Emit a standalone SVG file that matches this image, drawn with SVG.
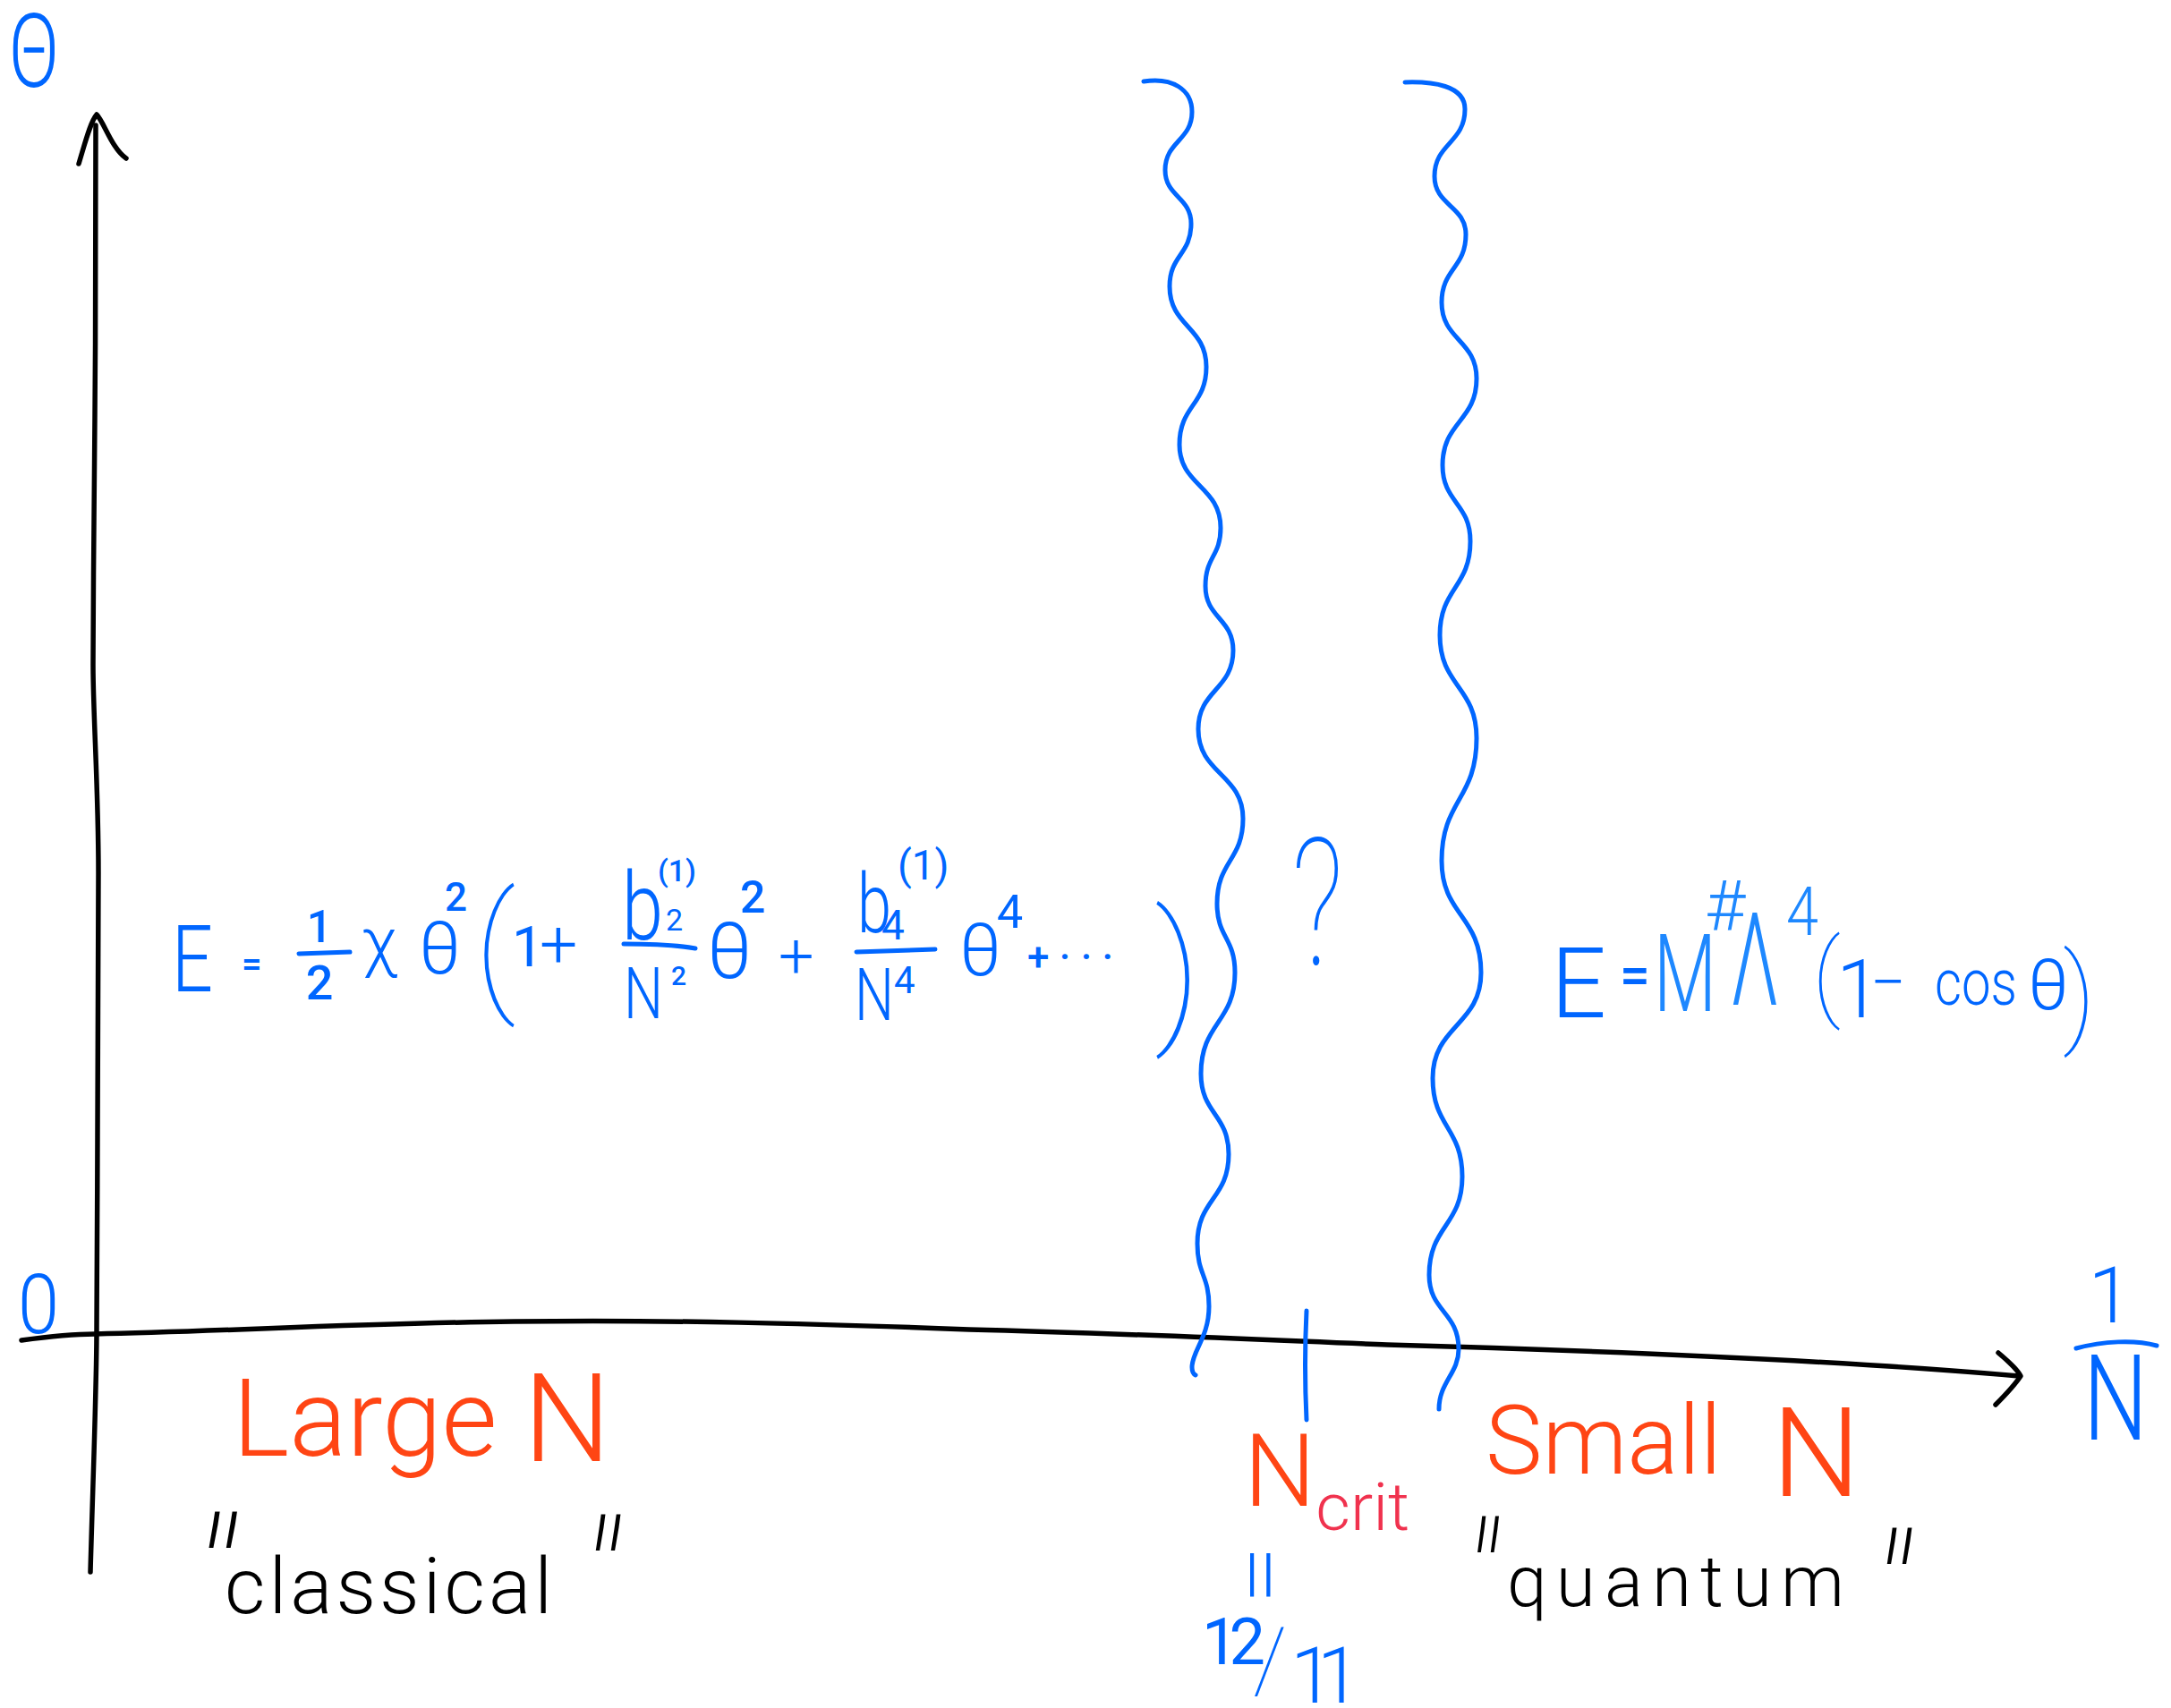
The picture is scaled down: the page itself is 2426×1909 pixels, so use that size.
<svg xmlns="http://www.w3.org/2000/svg" width="2426" height="1909" viewBox="0 0 2426 1909">
<style>
text{font-family:Roboto,'Liberation Sans','DejaVu Sans',sans-serif;font-weight:300}
.b{fill:#0066ff}
.lb{fill:#1e88ff}
.o{fill:#ff4514}
.p{fill:#f0324e}
.k{fill:#000}
.m{text-anchor:middle}
.bd{font-weight:500}
.rg{font-weight:400}
.th{font-weight:100}
.q{font-style:italic;font-weight:100}
.ln{fill:none;stroke-linecap:round;stroke-linejoin:round}
.ax{stroke:#000;stroke-width:5.5}
.bl{stroke:#0066ff;stroke-width:5}
</style>
<rect width="2426" height="1909" fill="#fff"/>

<g id="connectors" class="ln">
  <path id="y-axis" class="ax" d="M101,1757 C104,1650 108,1550 108,1485 C109,1300 110,1050 110,975 C110,880 104,800 104,743 C104,650 106,520 106,465 C107,350 107,220 107,140"/>
  <path id="y-arrow" class="ax" d="M88,183 C95,160 101,136 108,128 C116,136 125,166 141,177"/>
  <path id="x-axis" class="ax" d="M24,1498 C60,1493 80,1491 106,1491 C250,1488 400,1479 574,1477 C750,1475 900,1479 1083,1486 C1250,1490 1400,1497 1550,1503 C1800,1510 2050,1520 2256,1538"/>
  <path id="x-arrow" class="ax" d="M2233,1512 C2245,1522 2254,1530 2258,1538 C2250,1550 2240,1560 2230,1570"/>
  <path id="boundary-left" class="bl" d="M1278,91 C1310,86 1332,100 1332,125 C1332,157 1302,158 1302,190 C1302,220 1331,220 1331,250 C1331,285 1307,285 1307,320 C1307,365 1348,365 1348,410 C1348,453 1318,453 1318,497 C1318,543 1364,543 1364,590 C1364,622 1347,622 1347,655 C1347,691 1378,691 1378,727 C1378,771 1339,771 1339,815 C1339,865 1389,865 1389,915 C1389,962 1360,962 1360,1010 C1360,1048 1380,1048 1380,1087 C1380,1143 1342,1143 1342,1200 C1342,1245 1373,1245 1373,1290 C1373,1340 1338,1340 1338,1390 C1338,1425 1351,1425 1351,1460 C1351,1495 1332,1510 1332,1528 Q1332,1535 1336,1537"/>
  <path id="boundary-right" class="bl" d="M1570,92 C1600,91 1637,95 1637,122 C1637,160 1603,160 1603,197 C1603,230 1638,230 1638,262 C1638,300 1611,300 1611,338 C1611,380 1650,380 1650,423 C1650,471 1612,471 1612,520 C1612,562 1643,562 1643,605 C1643,657 1609,657 1609,710 C1609,767 1650,767 1650,825 C1650,894 1611,894 1611,962 C1611,1023 1655,1023 1655,1087 C1655,1146 1601,1146 1601,1205 C1601,1260 1634,1260 1634,1315 C1634,1370 1597,1370 1597,1425 C1597,1466 1630,1466 1630,1508 C1630,1535 1608,1545 1608,1575"/>
  <path id="ncrit-tick" class="bl" d="M1460,1465 Q1457,1525 1460,1587"/>
</g>

<g id="theta-label">
  <text class="b" x="10" y="97" font-size="115" textLength="56" lengthAdjust="spacingAndGlyphs">Θ</text>
</g>
<g id="zero-label">
  <text class="b" x="20" y="1490" font-size="93" textLength="46" lengthAdjust="spacingAndGlyphs">0</text>
</g>
<g id="inv-n-label">
  <text class="b m" x="2358" y="1478" font-size="88">1</text>
  <path class="ln bl" d="M2320,1507 C2350,1499 2385,1497 2410,1504"/>
  <text class="b" x="2328" y="1609" font-size="134" textLength="72" lengthAdjust="spacingAndGlyphs">N</text>
</g>

<g id="eq-large-n" class="b">
  <text x="192" y="1108" font-size="103" textLength="46" lengthAdjust="spacingAndGlyphs">E</text>
  <text x="270" y="1091" font-size="40" class="bd">=</text>
  <text x="357" y="1053" font-size="50" class="m bd">1</text>
  <path class="ln bl" d="M334,1066 L391,1064"/>
  <text x="357" y="1117" font-size="54" class="m bd">2</text>
  <text x="404" y="1078" font-size="75">χ</text>
  <text x="468" y="1088" font-size="82">θ</text>
  <text x="497" y="1018" font-size="44" class="bd">2</text>
  <text x="530" y="1112" font-size="157" class="th">(</text>
  <text x="572" y="1080" font-size="63" class="rg">1</text>
  <text x="603" y="1081" font-size="75">+</text>
  <text x="695" y="1050" font-size="105" textLength="46" lengthAdjust="spacingAndGlyphs">b</text>
  <text x="744" y="1040" font-size="34" class="rg">2</text>
  <text x="735" y="985" font-size="34" class="bd">(1)</text>
  <path class="ln bl" d="M697,1055 C730,1055 760,1057 777,1060"/>
  <text x="697" y="1138" font-size="80" textLength="44" lengthAdjust="spacingAndGlyphs">N</text>
  <text x="750" y="1101" font-size="30" class="bd">2</text>
  <text x="790" y="1093" font-size="88">θ</text>
  <text x="827" y="1020" font-size="50" class="bd">2</text>
  <text x="870" y="1093" font-size="70">+</text>
  <text x="958" y="1042" font-size="92" textLength="38" lengthAdjust="spacingAndGlyphs">b</text>
  <text x="985" y="1050" font-size="46" class="rg">4</text>
  <text x="1003" y="983" font-size="46" class="rg">(1)</text>
  <path class="ln bl" d="M957,1064 L1045,1061"/>
  <text x="955" y="1140" font-size="82" textLength="44" lengthAdjust="spacingAndGlyphs">N</text>
  <text x="999" y="1110" font-size="42" class="rg">4</text>
  <text x="1072" y="1090" font-size="82">θ</text>
  <text x="1114" y="1037" font-size="52" class="rg">4</text>
  <text x="1148" y="1085" font-size="44" class="bd" textLength="96" lengthAdjust="spacing">+···</text>
  <text x="1290" y="1144" font-size="173" class="th">)</text>
</g>

<g id="question-mark">
  <text class="b th" x="1443" y="1078" font-size="198" textLength="58" lengthAdjust="spacingAndGlyphs">?</text>
</g>

<g id="eq-small-n" class="b">
  <text x="1733" y="1137" font-size="110" textLength="62" lengthAdjust="spacingAndGlyphs">E</text>
  <text x="1810" y="1110" font-size="60" class="bd">=</text>
  <text x="1848" y="1130" font-size="120" textLength="70" lengthAdjust="spacingAndGlyphs" class="lb">M</text>
  <text x="1905" y="1040" font-size="78" class="lb">#</text>
  <text x="1934" y="1123" font-size="145" textLength="54" lengthAdjust="spacingAndGlyphs" class="lb">Λ</text>
  <text x="1996" y="1045" font-size="76" class="lb" textLength="36" lengthAdjust="spacingAndGlyphs">4</text>
  <text x="2025" y="1127" font-size="108" class="th">(</text>
  <text x="2052" y="1137" font-size="90">1</text>
  <text x="2090" y="1122" font-size="70">−</text>
  <text x="2162" y="1123" font-size="73" textLength="92" lengthAdjust="spacingAndGlyphs">cos</text>
  <text x="2266" y="1128" font-size="80">θ</text>
  <text x="2305" y="1154" font-size="122" class="th">)</text>
</g>

<g id="large-n-label">
  <text class="o" x="260" y="1627" font-size="120">Large <tspan font-size="138" dy="6">N</tspan></text>
</g>
<g id="classical-label" class="k">
  <text class="q" x="211" y="1840" font-size="200" textLength="50" lengthAdjust="spacingAndGlyphs">"</text>
  <text x="251" y="1803" font-size="88" textLength="366" lengthAdjust="spacing">classical</text>
  <text class="q" x="646" y="1843" font-size="200" textLength="44" lengthAdjust="spacingAndGlyphs">"</text>
</g>

<g id="ncrit-label">
  <text class="o" x="1390" y="1683" font-size="113">N<tspan class="p" font-size="75" dy="27">crit</tspan></text>
</g>
<g id="ncrit-value" class="b">
  <text x="1392" y="1777" font-size="58" class="rg" letter-spacing="4">||</text>
  <text x="1343" y="1860" font-size="72" class="rg" letter-spacing="-10">12<tspan x="1400" dy="30" font-size="100" class="th">/</tspan><tspan x="1442" dy="13" font-size="88" letter-spacing="-19" style="font-weight:300">11</tspan></text>
</g>

<g id="small-n-label">
  <text class="o" x="1660" y="1647" font-size="107" word-spacing="30">Small <tspan font-size="140" dy="25">N</tspan></text>
</g>
<g id="quantum-label" class="k">
  <text class="q" x="1634" y="1845" font-size="200" textLength="38" lengthAdjust="spacingAndGlyphs">"</text>
  <text x="1684" y="1795" font-size="80" textLength="377" lengthAdjust="spacing">quantum</text>
  <text class="q" x="2089" y="1858" font-size="200" textLength="44" lengthAdjust="spacingAndGlyphs">"</text>
</g>
</svg>
